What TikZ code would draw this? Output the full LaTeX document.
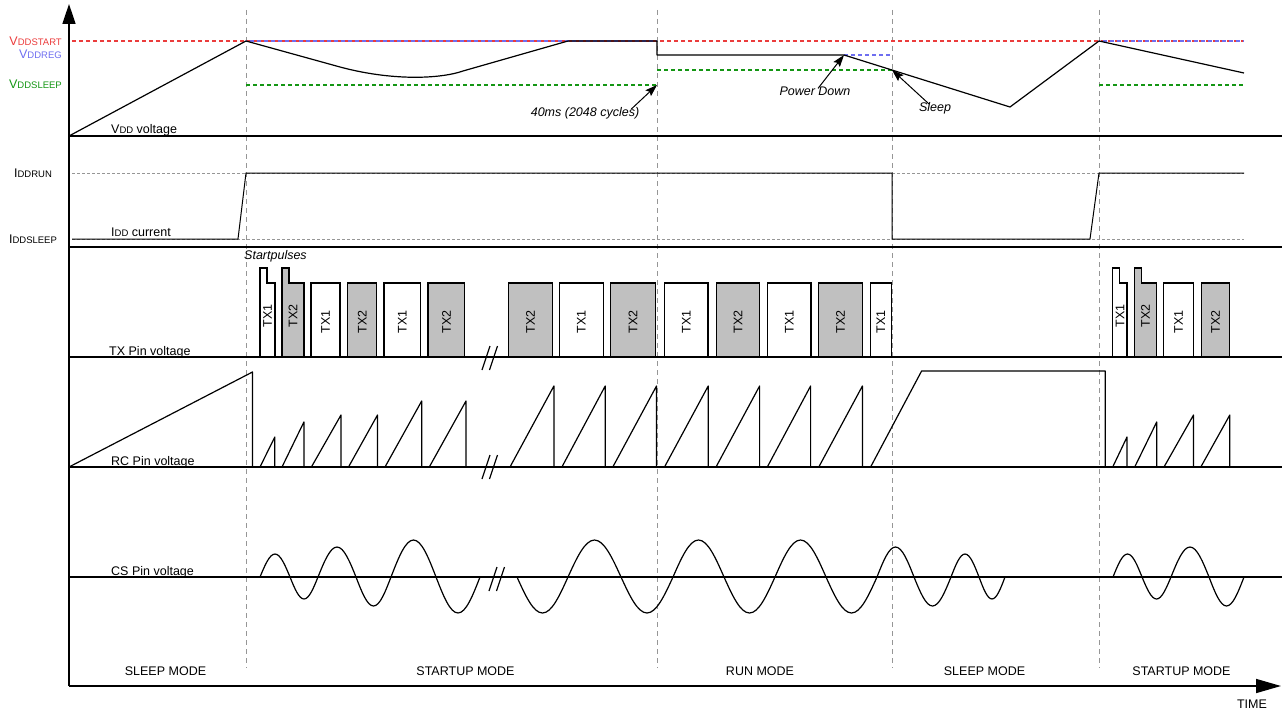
\documentclass[tikz,border=0pt]{standalone}
\usepackage{fontspec}
\setmainfont{Liberation Sans}
\usetikzlibrary{arrows.meta}
\usetikzlibrary{calc}

\definecolor{vstartred}{RGB}{235,60,60}
\definecolor{vregblue}{RGB}{110,110,240}
\definecolor{vsleepgreen}{RGB}{20,150,20}
\definecolor{txgray}{RGB}{192,192,192}
\definecolor{lightline}{RGB}{150,150,150}

\newcommand{\lowcap}[2]{#1{\fontsize{9.5}{10}\selectfont #2}}
\newcommand{\cutmark}[2]{%
\draw[sig] (#1-8,#2+12) -- (#1,#2-12);
\draw[sig] (#1-0.5,#2+12) -- (#1+7.5,#2-12);}

\begin{document}
\begin{tikzpicture}[x=1pt,y=-1pt,
  every node/.style={font=\fontsize{12.5}{14}\selectfont, inner sep=1pt},
  note/.style={font=\fontsize{12.5}{14}\selectfont\itshape},
  lane/.style={line width=1.6pt},
  sig/.style={line width=1.2pt, line join=round},
  modeline/.style={lightline, line width=1pt, dash pattern=on 5pt off 4pt},
  leveldash/.style={line width=1.2pt, dash pattern=on 4pt off 3pt},
  idddash/.style={lightline, line width=1pt, dash pattern=on 3pt off 2pt},
  pulse/.style={line width=1.2pt, fill=white},
  pointer/.style={-{Stealth[length=12pt,width=8pt,inset=2pt]}, line width=1pt}]
\useasboundingbox (0,0) rectangle (1282,709);

%mode borders
\draw[modeline] (246,10) -- (246,668);
\draw[modeline] (657,10) -- (657,668);
\draw[modeline] (892,10) -- (892,668);
\draw[modeline] (1099,10) -- (1099,668);

%vdd levels
\draw[leveldash,vstartred] (72,41) -- (1244,41);
\draw[leveldash,vregblue,dash phase=3.5pt] (246,41) -- (657,41);
\draw[leveldash,vregblue,dash phase=3.5pt] (1099,41) -- (1244,41);
\draw[leveldash,vregblue] (844,55) -- (892,55);
\draw[leveldash,vsleepgreen] (246,85) -- (657,85);
\draw[leveldash,vsleepgreen] (657,70) -- (892,70);
\draw[leveldash,vsleepgreen] (1099,85) -- (1244,85);
\node[anchor=east,text=vstartred] (vstart) at (63,41) {\lowcap{V}{DDSTART}};
\node[anchor=east,text=vregblue] (vreg) at (63,54) {\lowcap{V}{DDREG}};
\node[anchor=east,text=vsleepgreen] (vsleep) at (63,84) {\lowcap{V}{DDSLEEP}};

%vdd voltage
\draw[sig] (69,136) -- (246,41) -- (340,67) .. controls (392,81) and (440,79) .. (463,71)
  -- (568,41) -- (657,41) -- (657,55) -- (844,55) -- (1010,107) -- (1099,41) -- (1244,73);
\node[anchor=base west] (vddlbl) at (110,133) {\lowcap{V}{DD} voltage};
\node[note] (cyc) at (585,113) {40ms (2048 cycles)};
\coordinate (cycend) at (657,85);
\draw[pointer] ([xshift=-9pt,yshift=-3pt]cyc.north east) -- (cycend);
\node[note] (pd) at (815,91) {Power Down};
\coordinate (pdend) at (844,55);
\draw[pointer] ([xshift=3pt,yshift=-3pt]pd.north) -- (pdend);
\node[note] (slp) at (935,108) {Sleep};
\coordinate (slpend) at (892,70);
\draw[pointer] ([xshift=-6pt,yshift=-3pt]slp.north) -- (slpend);

%idd current
\draw[idddash] (72,173) -- (1244,173);
\draw[idddash] (72,239) -- (1244,239);
\draw[line width=1pt] (72,239) -- (238,239) -- (246,173) -- (892,173) -- (892,239) -- (1090,239) -- (1099,173) -- (1244,173);
\node (iddrun) at (33,173) {\lowcap{I}{DDRUN}};
\node (iddsleep) at (33,239) {\lowcap{I}{DDSLEEP}};
\node[anchor=base west] (iddlbl) at (110,236) {\lowcap{I}{DD} current};

%tx pulses
\node[note,anchor=west] (start) at (243,256) {Startpulses};
\draw[pulse] (260,357) -- (260,268) -- (267,268) -- (267,283) -- (275,283) -- (275,357);
\draw[pulse,fill=txgray] (282,357) -- (282,268) -- (289,268) -- (289,283) -- (304,283) -- (304,357);
\draw[pulse] (311,357) rectangle (340,283);
\draw[pulse,fill=txgray] (347.6,357) rectangle (376.8,283);
\draw[pulse] (384,357) rectangle (420.6,283);
\draw[pulse,fill=txgray] (428,357) rectangle (464.7,283);
\draw[pulse,fill=txgray] (508.5,357) rectangle (552.2,283);
\draw[pulse] (559.2,357) rectangle (603.6,283);
\draw[pulse,fill=txgray] (610.6,357) rectangle (655.5,283);
\draw[pulse] (664.5,357) rectangle (708,283);
\draw[pulse,fill=txgray] (716.3,357) rectangle (759.6,283);
\draw[pulse] (767.3,357) rectangle (811,283);
\draw[pulse,fill=txgray] (818.8,357) rectangle (862.4,283);
\draw[pulse] (870.2,357) rectangle (891.4,283);
\draw[pulse] (1112.7,357) -- (1112.7,268) -- (1119.6,268) -- (1119.6,283) -- (1127,283) -- (1127,357);
\draw[pulse,fill=txgray] (1134.7,357) -- (1134.7,268) -- (1141.6,268) -- (1141.6,283) -- (1156.3,283) -- (1156.3,357);
\draw[pulse] (1163.7,357) rectangle (1193.5,283);
\draw[pulse,fill=txgray] (1201.2,357) rectangle (1229.8,283);
\node[rotate=90] (s1) at (267.5,316) {TX1};
\node[rotate=90] (s2) at (293,316) {TX2};
\node[rotate=90] (p1) at (325.5,322) {TX1};
\node[rotate=90] (p2) at (362.2,322) {TX2};
\node[rotate=90] (p3) at (402.3,322) {TX1};
\node[rotate=90] (p4) at (446.4,322) {TX2};
\node[rotate=90] (p5) at (530.4,322) {TX2};
\node[rotate=90] (p6) at (581.4,322) {TX1};
\node[rotate=90] (p7) at (633,322) {TX2};
\node[rotate=90] (p8) at (686.3,322) {TX1};
\node[rotate=90] (p9) at (738,322) {TX2};
\node[rotate=90] (p10) at (789.2,322) {TX1};
\node[rotate=90] (p11) at (840.6,322) {TX2};
\node[rotate=90] (p12) at (880.8,322) {TX1};
\node[rotate=90] (s3) at (1120,316) {TX1};
\node[rotate=90] (s4) at (1145.5,316) {TX2};
\node[rotate=90] (p13) at (1178.6,322) {TX1};
\node[rotate=90] (p14) at (1215.5,322) {TX2};
\node[anchor=base west] (txlbl) at (108,355) {TX Pin voltage};

%rc pin
\draw[sig] (69,467) -- (252.5,372) -- (252.5,467);
\draw[sig] (260,467) -- (274.8,437) -- (274.8,467);
\draw[sig] (282,467) -- (303.9,422) -- (303.9,467);
\draw[sig] (311.4,467) -- (341,415) -- (341,467);
\draw[sig] (348.5,467) -- (377.5,415) -- (377.5,467);
\draw[sig] (385,467) -- (421.7,401) -- (421.7,467);
\draw[sig] (429.3,467) -- (466,401) -- (466,467);
\draw[sig] (510,467) -- (553.9,386) -- (553.9,467);
\draw[sig] (561.9,467) -- (605.2,386) -- (605.2,467);
\draw[sig] (612.8,467) -- (656.5,386) -- (656.5,467);
\draw[sig] (664.5,467) -- (708.2,386) -- (708.2,467);
\draw[sig] (716,467) -- (759.6,386) -- (759.6,467);
\draw[sig] (767.3,467) -- (810.6,386) -- (810.6,467);
\draw[sig] (818.8,467) -- (862.4,386) -- (862.4,467);
\draw[sig] (870.6,467) -- (921.6,371) -- (1105.3,371) -- (1105.3,467);
\draw[sig] (1112.7,467) -- (1127,437) -- (1127,467);
\draw[sig] (1134.7,467) -- (1156.7,422) -- (1156.7,467);
\draw[sig] (1164,467) -- (1193.5,415) -- (1193.5,467);
\draw[sig] (1200.8,467) -- (1229.8,415) -- (1229.8,467);
\node[anchor=base west] (rclbl) at (110,465) {RC Pin voltage};

%cs pin
\draw[sig] (260,577) sin (275,554) cos (290,577) sin (304,599) cos (318,577) sin (337,547) cos (356,577)
  sin (373.5,606) cos (391,577) sin (413.5,540) cos (436,577) sin (458,613) cos (480,577);
\draw[sig] (517,577) sin (542.5,613) cos (568,577) sin (594.5,540) cos (621,577) sin (647,613) cos (673,577)
  sin (698.5,540) cos (724,577) sin (749.5,613) cos (775,577) sin (800.5,540) cos (826,577)
  sin (851.5,613) cos (877,577) sin (895.5,547) cos (914,577) sin (932.5,606) cos (951,577)
  sin (965,554) cos (979,577) sin (992,599) cos (1005,577);
\draw[sig] (1113,577) sin (1127.5,554) cos (1142,577) sin (1156.5,599) cos (1171,577)
  sin (1190,547) cos (1209,577) sin (1226.5,606) cos (1244,577);
\node[anchor=base west] (cslbl) at (110,575) {CS Pin voltage};

%breaks
\cutmark{490}{358}
\cutmark{490}{467}
\cutmark{497}{579}

%lanes
\draw[lane] (69,136) -- (1282,136);
\draw[lane] (69,247) -- (1282,247);
\draw[lane] (69,357) -- (1282,357);
\draw[lane] (69,467) -- (1282,467);
\draw[lane] (69,577) -- (1282,577);

%axes
\draw[lane,-{Triangle[length=20pt,width=13pt]}] (69,686) -- (69,4);
\draw[lane,-{Triangle[length=25pt,width=14pt]}] (69,686) -- (1281,686);
\node (time) at (1252,704) {TIME};

%modes
\node (m1) at (165.5,671) {SLEEP MODE};
\node (m2) at (465.5,671) {STARTUP MODE};
\node (m3) at (760,671) {RUN MODE};
\node (m4) at (984.5,671) {SLEEP MODE};
\node (m5) at (1181.5,671) {STARTUP MODE};
\end{tikzpicture}
\end{document}
